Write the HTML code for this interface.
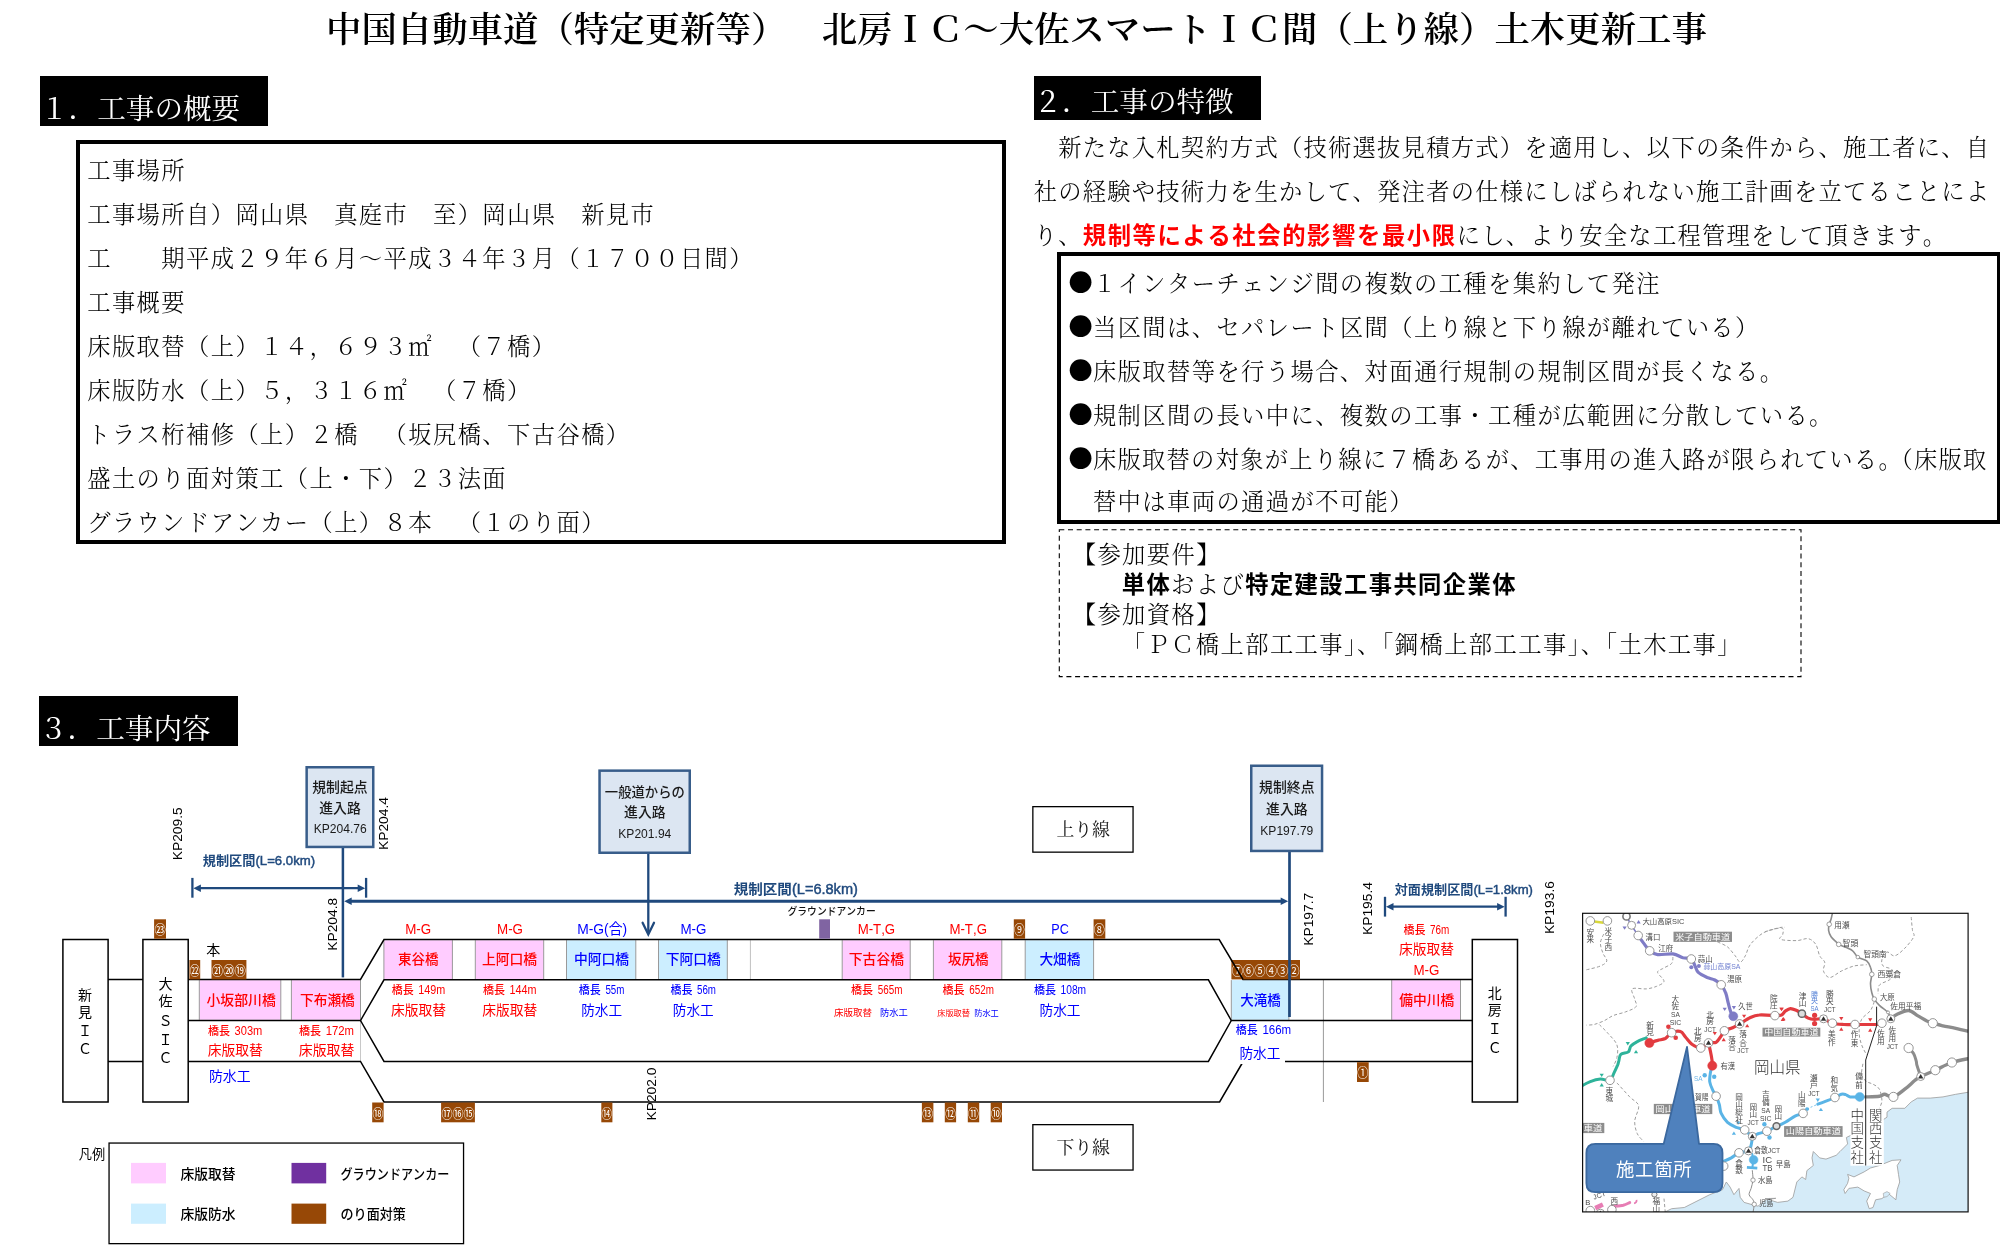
<!DOCTYPE html>
<html lang="ja">
<head>
<meta charset="utf-8">
<title>中国自動車道（特定更新等） 北房ＩＣ～大佐スマートＩＣ間（上り線）土木更新工事</title>
<style>
html,body{margin:0;padding:0;background:#fff;}
body{text-spacing-trim:space-all;font-kerning:none;font-variant-east-asian:normal;width:2000px;height:1259px;position:relative;overflow:hidden;color:#000;
  font-family:"Liberation Sans","Noto Sans CJK JP",sans-serif;}
.mc,.gt{will-change:transform;}
.mc{font-family:"Liberation Serif","Noto Serif CJK JP","Noto Serif CJK SC",serif;}
.gt{font-family:"Liberation Sans","Noto Sans CJK JP",sans-serif;}
.abs{position:absolute;white-space:nowrap;}
#title{left:326px;top:2.7px;font-size:35.42px;line-height:54px;letter-spacing:0;color:#000;font-weight:600;}
.hd{background:#000;color:#fff;font-size:28.6px;}
.hd span{position:absolute;left:0;top:0;white-space:nowrap;}
.ln{position:absolute;white-space:nowrap;font-size:23.3px;letter-spacing:1.4px;margin-left:-0.3px;line-height:44px;height:44px;color:#000;font-weight:300;}
#sec2 .ln{letter-spacing:1.23px;}
#sec2 .red{letter-spacing:1.63px;}
.box{position:absolute;border:4px solid #000;box-sizing:border-box;background:#fff;}
.bl{font-family:"Noto Serif CJK JP","Noto Serif CJK SC",serif;font-size:24.7px;letter-spacing:0;font-weight:400;}
.red{color:#ff0000;font-weight:bold;}
.b{font-weight:bold;}
svg{position:absolute;left:0;top:0;will-change:transform;}
svg text{white-space:pre;}
</style>
</head>
<body>

<div id="title" class="abs mc">中国自動車道（特定更新等）　北房ＩＣ～大佐スマートＩＣ間（上り線）土木更新工事</div>

<!-- section 1 -->
<div class="abs hd mc" style="left:39.5px;top:75.5px;width:227.5px;height:50px;"><span style="left:0px;top:12.5px;line-height:42px;">１．工事の概要</span></div>
<div class="box" style="left:75.5px;top:139.5px;width:930.6px;height:404.2px;"></div>
<div class="mc" id="sec1">
<div class="ln" style="left:87.5px;top:149px;">工事場所</div>
<div class="ln" style="left:87.5px;top:193px;">工事場所自）岡山県　真庭市　至）岡山県　新見市</div>
<div class="ln" style="left:87.5px;top:237px;">工　　期平成２９年６月～平成３４年３月（１７００日間）</div>
<div class="ln" style="left:87.5px;top:281px;">工事概要</div>
<div class="ln" style="left:87.5px;top:325px;">床版取替（上）１４，６９３㎡　（７橋）</div>
<div class="ln" style="left:87.5px;top:369px;">床版防水（上）５，３１６㎡　（７橋）</div>
<div class="ln" style="left:87.5px;top:413px;">トラス桁補修（上）２橋　（坂尻橋、下古谷橋）</div>
<div class="ln" style="left:87.5px;top:457px;">盛土のり面対策工（上・下）２３法面</div>
<div class="ln" style="left:87.5px;top:501px;">グラウンドアンカー（上）８本　（１のり面）</div>
</div>

<!-- section 2 -->
<div class="abs hd mc" style="left:1033.5px;top:75.5px;width:226.5px;height:44px;"><span style="left:-0.5px;top:6px;line-height:42px;">２．工事の特徴</span></div>
<div class="mc" id="sec2">
<div class="ln" style="left:1034px;top:126px;">　新たな入札契約方式（技術選抜見積方式）を適用し、以下の条件から、施工者に、自</div>
<div class="ln" style="left:1034px;top:170px;">社の経験や技術力を生かして、発注者の仕様にしばられない施工計画を立てることによ</div>
<div class="ln" style="left:1034px;top:214px;">り、<span class="gt red">規制等による社会的影響を最小限</span>にし、より安全な工程管理をして頂きます。</div>
</div>
<div class="box" style="left:1056.75px;top:252px;width:943.75px;height:272.4px;"></div>
<div class="mc" id="sec2b">
<div class="ln" style="left:1068.5px;top:259.5px;"><span class="bl">●</span>１インターチェンジ間の複数の工種を集約して発注</div>
<div class="ln" style="left:1068.5px;top:303.5px;"><span class="bl">●</span>当区間は、セパレート区間（上り線と下り線が離れている）</div>
<div class="ln" style="left:1068.5px;top:347.5px;"><span class="bl">●</span>床版取替等を行う場合、対面通行規制の規制区間が長くなる。</div>
<div class="ln" style="left:1068.5px;top:391.5px;"><span class="bl">●</span>規制区間の長い中に、複数の工事・工種が広範囲に分散している。</div>
<div class="ln" style="left:1068.5px;top:435.5px;letter-spacing:1.25px;"><span class="bl">●</span>床版取替の対象が上り線に７橋あるが、工事用の進入路が限られている。<span style="margin-left:-13.5px">（</span>床版取</div>
<div class="ln" style="left:1068.5px;top:479.5px;">　替中は車両の通過が不可能）</div>
</div>
<div class="abs" style="left:1059px;top:529.5px;width:742.5px;height:147.5px;box-sizing:border-box;border:0;"></div>
<div class="mc" id="sec2c">
<div class="ln" style="left:1073px;top:532.5px;">【参加要件】</div>
<div class="ln" style="left:1122px;top:562.5px;"><span class="gt b">単体</span>および<span class="gt b">特定建設工事共同企業体</span></div>
<div class="ln" style="left:1073px;top:592.5px;">【参加資格】</div>
<div class="ln" style="left:1122px;top:622.5px;text-spacing-trim:normal;">「ＰＣ橋上部工工事」、「鋼橋上部工工事」、「土木工事」</div>
</div>

<!-- section 3 -->
<div class="abs hd mc" style="left:39px;top:695.75px;width:199.25px;height:50px;"><span style="left:0px;top:13px;line-height:42px;">３．工事内容</span></div>

<svg width="2000" height="1259" viewBox="0 0 2000 1259" font-family='"Liberation Sans","Noto Sans CJK JP",sans-serif'>
<rect x="1059.3" y="529.7" width="741.7" height="146.9" fill="none" stroke="#000" stroke-width="1.1" stroke-dasharray="5 3.7"/>
<rect x="199.30" y="980.10" width="81.50" height="39.70" fill="#ffccff"/>
<path d="M199.30 980.10 L199.30 1019.80" fill="none" stroke="#9a9a9a" stroke-width="1"/>
<path d="M280.80 980.10 L280.80 1019.80" fill="none" stroke="#9a9a9a" stroke-width="1"/>
<rect x="291.40" y="980.10" width="69.10" height="39.70" fill="#ffccff"/>
<path d="M291.40 980.10 L291.40 1019.80" fill="none" stroke="#9a9a9a" stroke-width="1"/>
<path d="M360.50 980.10 L360.50 1019.80" fill="none" stroke="#9a9a9a" stroke-width="1"/>
<rect x="383.90" y="940.20" width="68.50" height="39.00" fill="#ffccff"/>
<path d="M383.90 940.20 L383.90 979.20" fill="none" stroke="#9a9a9a" stroke-width="1"/>
<path d="M452.40 940.20 L452.40 979.20" fill="none" stroke="#9a9a9a" stroke-width="1"/>
<rect x="475.30" y="940.20" width="68.40" height="39.00" fill="#ffccff"/>
<path d="M475.30 940.20 L475.30 979.20" fill="none" stroke="#9a9a9a" stroke-width="1"/>
<path d="M543.70 940.20 L543.70 979.20" fill="none" stroke="#9a9a9a" stroke-width="1"/>
<rect x="566.50" y="940.20" width="69.30" height="39.00" fill="#cceeff"/>
<path d="M566.50 940.20 L566.50 979.20" fill="none" stroke="#9a9a9a" stroke-width="1"/>
<path d="M635.80 940.20 L635.80 979.20" fill="none" stroke="#9a9a9a" stroke-width="1"/>
<rect x="658.50" y="940.20" width="68.80" height="39.00" fill="#cceeff"/>
<path d="M658.50 940.20 L658.50 979.20" fill="none" stroke="#9a9a9a" stroke-width="1"/>
<path d="M727.30 940.20 L727.30 979.20" fill="none" stroke="#9a9a9a" stroke-width="1"/>
<rect x="842.20" y="940.20" width="68.00" height="39.00" fill="#ffccff"/>
<path d="M842.20 940.20 L842.20 979.20" fill="none" stroke="#9a9a9a" stroke-width="1"/>
<path d="M910.20 940.20 L910.20 979.20" fill="none" stroke="#9a9a9a" stroke-width="1"/>
<rect x="933.40" y="940.20" width="68.40" height="39.00" fill="#ffccff"/>
<path d="M933.40 940.20 L933.40 979.20" fill="none" stroke="#9a9a9a" stroke-width="1"/>
<path d="M1001.80 940.20 L1001.80 979.20" fill="none" stroke="#9a9a9a" stroke-width="1"/>
<rect x="1025.20" y="940.20" width="68.40" height="39.00" fill="#cceeff"/>
<path d="M1025.20 940.20 L1025.20 979.20" fill="none" stroke="#9a9a9a" stroke-width="1"/>
<path d="M1093.60 940.20 L1093.60 979.20" fill="none" stroke="#9a9a9a" stroke-width="1"/>
<rect x="1231.30" y="980.10" width="57.60" height="39.70" fill="#cceeff"/>
<path d="M1231.30 980.10 L1231.30 1019.80" fill="none" stroke="#9a9a9a" stroke-width="1"/>
<path d="M1288.90 980.10 L1288.90 1019.80" fill="none" stroke="#9a9a9a" stroke-width="1"/>
<rect x="1391.70" y="980.10" width="68.80" height="39.70" fill="#ffccff"/>
<path d="M1391.70 980.10 L1391.70 1019.80" fill="none" stroke="#9a9a9a" stroke-width="1"/>
<path d="M1460.50 980.10 L1460.50 1019.80" fill="none" stroke="#9a9a9a" stroke-width="1"/>
<path d="M360.50 1020.50 L360.50 1061.40" fill="none" stroke="#c8c8c8" stroke-width="1"/>
<path d="M750.40 940.20 L750.40 979.20" fill="none" stroke="#c0c0c0" stroke-width="1"/>
<path d="M1323.40 979.40 L1323.40 1102.00" fill="none" stroke="#9a9a9a" stroke-width="1"/>
<rect x="62.90" y="939.50" width="45.20" height="162.50" fill="#fff" stroke="#000" stroke-width="1.5"/>
<rect x="142.90" y="939.50" width="45.30" height="162.50" fill="#fff" stroke="#000" stroke-width="1.5"/>
<rect x="1472.30" y="939.50" width="45.20" height="162.50" fill="#fff" stroke="#000" stroke-width="1.5"/>
<path d="M108.10 979.40 L142.90 979.40" fill="none" stroke="#000" stroke-width="1.5"/>
<path d="M108.10 1061.40 L142.90 1061.40" fill="none" stroke="#000" stroke-width="1.5"/>
<path d="M188.20 979.40 L360.50 979.40 L384.00 939.50 L1219.20 939.50 L1243.00 979.40 L1472.30 979.40" fill="none" stroke="#000" stroke-width="1.5"/>
<path d="M188.20 1020.50 L360.50 1020.50 L384.00 979.80 L1208.40 979.80 L1231.30 1020.50 L1472.30 1020.50" fill="none" stroke="#000" stroke-width="1.5"/>
<path d="M360.50 1020.50 L384.00 1061.40 L1208.40 1061.40 L1231.30 1020.50" fill="none" stroke="#000" stroke-width="1.5"/>
<path d="M188.20 1061.40 L360.50 1061.40 L384.00 1102.00 L1219.60 1102.00 L1242.30 1063.00" fill="none" stroke="#000" stroke-width="1.5"/>
<path d="M1285.00 1061.40 L1472.30 1061.40" fill="none" stroke="#000" stroke-width="1.5"/>
<rect x="154.10" y="919.30" width="11.90" height="19.40" fill="#974806"/>
<text x="160.1" y="934.1" font-size="13.0" fill="#fff" text-anchor="middle" font-weight="400" textLength="11.3" lengthAdjust="spacingAndGlyphs">㉓</text>
<rect x="189.40" y="960.00" width="10.80" height="19.40" fill="#974806"/>
<text x="194.8" y="974.8" font-size="13.0" fill="#fff" text-anchor="middle" font-weight="400" textLength="10.2" lengthAdjust="spacingAndGlyphs">㉒</text>
<rect x="211.50" y="960.00" width="34.90" height="19.40" fill="#974806"/>
<text x="228.9" y="974.8" font-size="13.0" fill="#fff" text-anchor="middle" font-weight="400" textLength="34.3" lengthAdjust="spacingAndGlyphs">㉑⑳⑲</text>
<rect x="372.20" y="1102.50" width="11.40" height="19.80" fill="#974806"/>
<text x="377.9" y="1117.5" font-size="13.0" fill="#fff" text-anchor="middle" font-weight="400" textLength="10.8" lengthAdjust="spacingAndGlyphs">⑱</text>
<rect x="441.10" y="1102.50" width="33.80" height="19.80" fill="#974806"/>
<text x="458.0" y="1117.5" font-size="13.0" fill="#fff" text-anchor="middle" font-weight="400" textLength="33.2" lengthAdjust="spacingAndGlyphs">⑰⑯⑮</text>
<rect x="601.30" y="1102.50" width="11.10" height="19.80" fill="#974806"/>
<text x="606.8" y="1117.5" font-size="13.0" fill="#fff" text-anchor="middle" font-weight="400" textLength="10.5" lengthAdjust="spacingAndGlyphs">⑭</text>
<rect x="921.90" y="1102.50" width="11.50" height="19.80" fill="#974806"/>
<text x="927.6" y="1117.5" font-size="13.0" fill="#fff" text-anchor="middle" font-weight="400" textLength="10.9" lengthAdjust="spacingAndGlyphs">⑬</text>
<rect x="944.80" y="1102.50" width="11.30" height="19.80" fill="#974806"/>
<text x="950.5" y="1117.5" font-size="13.0" fill="#fff" text-anchor="middle" font-weight="400" textLength="10.7" lengthAdjust="spacingAndGlyphs">⑫</text>
<rect x="967.80" y="1102.50" width="11.40" height="19.80" fill="#974806"/>
<text x="973.5" y="1117.5" font-size="13.0" fill="#fff" text-anchor="middle" font-weight="400" textLength="10.8" lengthAdjust="spacingAndGlyphs">⑪</text>
<rect x="990.70" y="1102.50" width="11.30" height="19.80" fill="#974806"/>
<text x="996.4" y="1117.5" font-size="13.0" fill="#fff" text-anchor="middle" font-weight="400" textLength="10.7" lengthAdjust="spacingAndGlyphs">⑩</text>
<rect x="1013.80" y="919.30" width="11.30" height="19.40" fill="#974806"/>
<text x="1019.4" y="934.1" font-size="13.0" fill="#fff" text-anchor="middle" font-weight="400" textLength="10.7" lengthAdjust="spacingAndGlyphs">⑨</text>
<rect x="1093.60" y="919.30" width="11.70" height="19.40" fill="#974806"/>
<text x="1099.4" y="934.1" font-size="13.0" fill="#fff" text-anchor="middle" font-weight="400" textLength="11.1" lengthAdjust="spacingAndGlyphs">⑧</text>
<rect x="1231.40" y="960.00" width="68.60" height="19.40" fill="#974806"/>
<text x="1265.7" y="974.8" font-size="13.0" fill="#fff" text-anchor="middle" font-weight="400" textLength="68.0" lengthAdjust="spacingAndGlyphs">⑦⑥⑤④③②</text>
<rect x="1357.00" y="1062.20" width="11.70" height="19.80" fill="#974806"/>
<text x="1362.8" y="1077.2" font-size="13.0" fill="#fff" text-anchor="middle" font-weight="400" textLength="11.1" lengthAdjust="spacingAndGlyphs">①</text>
<path d="M1231.30 959.90 L1243.00 979.40" fill="none" stroke="#000" stroke-width="1.5"/>
<rect x="819.20" y="919.30" width="10.80" height="19.40" fill="#8064a2"/>
<path d="M342.90 847.00 L342.90 977.40" fill="none" stroke="#1f497d" stroke-width="2.5"/>
<path d="M1289.50 851.00 L1289.50 1017.00" fill="none" stroke="#1f497d" stroke-width="2.7"/>
<path d="M648.30 853.00 L648.30 933.50" fill="none" stroke="#1f497d" stroke-width="2.3"/>
<path d="M642.60 922.80 L648.30 934.40 L654.00 922.80" fill="none" stroke="#1f497d" stroke-width="2.3" stroke-linejoin="miter" stroke-linecap="round"/>
<rect x="306.65" y="767.25" width="66.60" height="79.70" fill="#dce6f2" stroke="#385d8a" stroke-width="2.5"/>
<rect x="599.55" y="770.65" width="90.20" height="82.10" fill="#dce6f2" stroke="#385d8a" stroke-width="2.5"/>
<rect x="1251.25" y="765.75" width="70.80" height="85.20" fill="#dce6f2" stroke="#385d8a" stroke-width="2.5"/>
<text x="340.0" y="792.0" font-size="14.0" fill="#1a1a1a" text-anchor="middle" font-weight="500" textLength="55.5" lengthAdjust="spacingAndGlyphs">規制起点</text>
<text x="340.0" y="812.7" font-size="14.0" fill="#1a1a1a" text-anchor="middle" font-weight="500" textLength="41.5" lengthAdjust="spacingAndGlyphs">進入路</text>
<text x="340.2" y="833.0" font-size="12.3" fill="#1a1a1a" text-anchor="middle" font-weight="400" textLength="53.0" lengthAdjust="spacingAndGlyphs">KP204.76</text>
<text x="644.8" y="796.9" font-size="13.6" fill="#1a1a1a" text-anchor="middle" font-weight="500" textLength="80.0" lengthAdjust="spacingAndGlyphs">一般道からの</text>
<text x="644.8" y="817.2" font-size="14.0" fill="#1a1a1a" text-anchor="middle" font-weight="500" textLength="41.5" lengthAdjust="spacingAndGlyphs">進入路</text>
<text x="644.8" y="838.4" font-size="12.3" fill="#1a1a1a" text-anchor="middle" font-weight="400" textLength="53.0" lengthAdjust="spacingAndGlyphs">KP201.94</text>
<text x="1286.8" y="792.4" font-size="14.0" fill="#1a1a1a" text-anchor="middle" font-weight="500" textLength="55.5" lengthAdjust="spacingAndGlyphs">規制終点</text>
<text x="1286.8" y="813.6" font-size="14.0" fill="#1a1a1a" text-anchor="middle" font-weight="500" textLength="41.5" lengthAdjust="spacingAndGlyphs">進入路</text>
<text x="1286.8" y="834.8" font-size="12.3" fill="#1a1a1a" text-anchor="middle" font-weight="400" textLength="53.0" lengthAdjust="spacingAndGlyphs">KP197.79</text>
<path d="M199.90 888.20 L358.70 888.20" fill="none" stroke="#1f497d" stroke-width="2.3"/>
<path d="M193.40 888.20 L200.90 884.40 L200.90 892.00 Z" fill="#1f497d"/>
<path d="M365.20 888.20 L357.70 884.40 L357.70 892.00 Z" fill="#1f497d"/>
<path d="M192.40 877.90 L192.40 897.70" fill="none" stroke="#1f497d" stroke-width="2.3"/>
<path d="M366.10 877.90 L366.10 897.70" fill="none" stroke="#1f497d" stroke-width="2.3"/>
<path d="M350.70 901.30 L1281.70 901.30" fill="none" stroke="#1f497d" stroke-width="2.9"/>
<path d="M344.20 901.30 L351.70 897.50 L351.70 905.10 Z" fill="#1f497d"/>
<path d="M1288.20 901.30 L1280.70 897.50 L1280.70 905.10 Z" fill="#1f497d"/>
<path d="M1392.50 906.70 L1498.10 906.70" fill="none" stroke="#1f497d" stroke-width="2.3"/>
<path d="M1386.00 906.70 L1393.50 902.90 L1393.50 910.50 Z" fill="#1f497d"/>
<path d="M1504.60 906.70 L1497.10 902.90 L1497.10 910.50 Z" fill="#1f497d"/>
<path d="M1385.00 896.80 L1385.00 916.60" fill="none" stroke="#1f497d" stroke-width="2.3"/>
<path d="M1505.60 896.80 L1505.60 916.60" fill="none" stroke="#1f497d" stroke-width="2.3"/>
<text x="202.8" y="864.6" font-size="13.0" fill="#1f497d" font-weight="700" textLength="112.3" lengthAdjust="spacingAndGlyphs">規制区間<tspan font-weight="400" stroke="#1f497d" stroke-width="0.45">(L=6.0km)</tspan></text>
<text x="733.7" y="893.8" font-size="14.2" fill="#1f497d" font-weight="700" textLength="124.2" lengthAdjust="spacingAndGlyphs">規制区間<tspan font-weight="400" stroke="#1f497d" stroke-width="0.45">(L=6.8km)</tspan></text>
<text x="1394.7" y="893.9" font-size="13.0" fill="#1f497d" font-weight="700" textLength="138.3" lengthAdjust="spacingAndGlyphs">対面規制区間<tspan font-weight="400" stroke="#1f497d" stroke-width="0.45">(L=1.8km)</tspan></text>
<text transform="translate(177.5 833.8) rotate(-90)" x="0" y="4.6" font-size="13.2" fill="#000" text-anchor="middle" textLength="53" lengthAdjust="spacingAndGlyphs">KP209.5</text>
<text transform="translate(383.5 823.5) rotate(-90)" x="0" y="4.6" font-size="13.2" fill="#000" text-anchor="middle" textLength="53" lengthAdjust="spacingAndGlyphs">KP204.4</text>
<text transform="translate(332.8 924.3) rotate(-90)" x="0" y="4.6" font-size="13.2" fill="#000" text-anchor="middle" textLength="53" lengthAdjust="spacingAndGlyphs">KP204.8</text>
<text transform="translate(651.3 1094.0) rotate(-90)" x="0" y="4.6" font-size="13.2" fill="#000" text-anchor="middle" textLength="53" lengthAdjust="spacingAndGlyphs">KP202.0</text>
<text transform="translate(1308.4 919.3) rotate(-90)" x="0" y="4.6" font-size="13.2" fill="#000" text-anchor="middle" textLength="53" lengthAdjust="spacingAndGlyphs">KP197.7</text>
<text transform="translate(1367.7 908.5) rotate(-90)" x="0" y="4.6" font-size="13.2" fill="#000" text-anchor="middle" textLength="53" lengthAdjust="spacingAndGlyphs">KP195.4</text>
<text transform="translate(1549.2 907.6) rotate(-90)" x="0" y="4.6" font-size="13.2" fill="#000" text-anchor="middle" textLength="53" lengthAdjust="spacingAndGlyphs">KP193.6</text>
<text x="418.2" y="934.4" font-size="15.0" fill="#ff0000" text-anchor="middle" font-weight="400" textLength="26.0" lengthAdjust="spacingAndGlyphs">M-G</text>
<text x="510.0" y="934.4" font-size="15.0" fill="#ff0000" text-anchor="middle" font-weight="400" textLength="26.0" lengthAdjust="spacingAndGlyphs">M-G</text>
<text x="602.2" y="934.4" font-size="15.0" fill="#0000ff" text-anchor="middle" font-weight="400" textLength="50.0" lengthAdjust="spacingAndGlyphs">M-G(合)</text>
<text x="693.4" y="934.4" font-size="15.0" fill="#0000ff" text-anchor="middle" font-weight="400" textLength="26.0" lengthAdjust="spacingAndGlyphs">M-G</text>
<text x="876.4" y="934.4" font-size="15.0" fill="#ff0000" text-anchor="middle" font-weight="400" textLength="37.5" lengthAdjust="spacingAndGlyphs">M-T,G</text>
<text x="968.2" y="934.4" font-size="15.0" fill="#ff0000" text-anchor="middle" font-weight="400" textLength="37.5" lengthAdjust="spacingAndGlyphs">M-T,G</text>
<text x="1060.0" y="934.4" font-size="15.0" fill="#0000ff" text-anchor="middle" font-weight="400" textLength="17.5" lengthAdjust="spacingAndGlyphs">PC</text>
<text x="418.2" y="964.4" font-size="14.0" fill="#ff0000" text-anchor="middle" font-weight="500" textLength="40.5" lengthAdjust="spacingAndGlyphs">東谷橋</text>
<text x="509.5" y="964.4" font-size="14.0" fill="#ff0000" text-anchor="middle" font-weight="500" textLength="55.2" lengthAdjust="spacingAndGlyphs">上阿口橋</text>
<text x="601.5" y="964.4" font-size="14.0" fill="#0000ff" text-anchor="middle" font-weight="500" textLength="55.2" lengthAdjust="spacingAndGlyphs">中阿口橋</text>
<text x="693.3" y="964.4" font-size="14.0" fill="#0000ff" text-anchor="middle" font-weight="500" textLength="55.2" lengthAdjust="spacingAndGlyphs">下阿口橋</text>
<text x="876.4" y="964.4" font-size="14.0" fill="#ff0000" text-anchor="middle" font-weight="500" textLength="55.2" lengthAdjust="spacingAndGlyphs">下古谷橋</text>
<text x="968.2" y="964.4" font-size="14.0" fill="#ff0000" text-anchor="middle" font-weight="500" textLength="40.5" lengthAdjust="spacingAndGlyphs">坂尻橋</text>
<text x="1059.9" y="964.4" font-size="14.0" fill="#0000ff" text-anchor="middle" font-weight="500" textLength="41.0" lengthAdjust="spacingAndGlyphs">大畑橋</text>
<text x="241.1" y="1005.0" font-size="14.0" fill="#ff0000" text-anchor="middle" font-weight="500" textLength="69.3" lengthAdjust="spacingAndGlyphs">小坂部川橋</text>
<text x="327.4" y="1005.0" font-size="14.0" fill="#ff0000" text-anchor="middle" font-weight="500" textLength="54.8" lengthAdjust="spacingAndGlyphs">下布瀬橋</text>
<text x="1260.5" y="1005.0" font-size="14.0" fill="#0000ff" text-anchor="middle" font-weight="500" textLength="40.5" lengthAdjust="spacingAndGlyphs">大滝橋</text>
<text x="1426.7" y="1005.0" font-size="14.0" fill="#ff0000" text-anchor="middle" font-weight="500" textLength="55.0" lengthAdjust="spacingAndGlyphs">備中川橋</text>
<text x="391.7" y="994.1" font-size="11.3" fill="#ff0000" font-weight="500" textLength="22.0" lengthAdjust="spacingAndGlyphs">橋長</text>
<text x="418.3" y="994.4" font-size="13.2" fill="#ff0000" textLength="27.0" lengthAdjust="spacingAndGlyphs">149m</text>
<text x="418.5" y="1014.8" font-size="14.0" fill="#ff0000" text-anchor="middle" font-weight="400" textLength="55.0" lengthAdjust="spacingAndGlyphs">床版取替</text>
<text x="483.0" y="994.1" font-size="11.3" fill="#ff0000" font-weight="500" textLength="22.0" lengthAdjust="spacingAndGlyphs">橋長</text>
<text x="509.6" y="994.4" font-size="13.2" fill="#ff0000" textLength="27.0" lengthAdjust="spacingAndGlyphs">144m</text>
<text x="509.8" y="1014.8" font-size="14.0" fill="#ff0000" text-anchor="middle" font-weight="400" textLength="55.0" lengthAdjust="spacingAndGlyphs">床版取替</text>
<text x="578.8" y="994.1" font-size="11.3" fill="#0000ff" font-weight="500" textLength="22.0" lengthAdjust="spacingAndGlyphs">橋長</text>
<text x="605.4" y="994.4" font-size="13.2" fill="#0000ff" textLength="19.0" lengthAdjust="spacingAndGlyphs">55m</text>
<text x="601.6" y="1014.8" font-size="14.0" fill="#0000ff" text-anchor="middle" font-weight="400" textLength="40.8" lengthAdjust="spacingAndGlyphs">防水工</text>
<text x="670.4" y="994.1" font-size="11.3" fill="#0000ff" font-weight="500" textLength="22.0" lengthAdjust="spacingAndGlyphs">橋長</text>
<text x="697.0" y="994.4" font-size="13.2" fill="#0000ff" textLength="19.0" lengthAdjust="spacingAndGlyphs">56m</text>
<text x="693.2" y="1014.8" font-size="14.0" fill="#0000ff" text-anchor="middle" font-weight="400" textLength="40.8" lengthAdjust="spacingAndGlyphs">防水工</text>
<text x="851.1" y="994.1" font-size="11.3" fill="#ff0000" font-weight="500" textLength="22.0" lengthAdjust="spacingAndGlyphs">橋長</text>
<text x="877.8" y="994.4" font-size="13.2" fill="#ff0000" textLength="24.7" lengthAdjust="spacingAndGlyphs">565m</text>
<text x="834.1" y="1015.9" font-size="9.5" fill="#ff0000" text-anchor="start" font-weight="400" textLength="37.9" lengthAdjust="spacingAndGlyphs">床版取替</text>
<text x="880.0" y="1015.9" font-size="9.5" fill="#0000ff" text-anchor="start" font-weight="400" textLength="27.9" lengthAdjust="spacingAndGlyphs">防水工</text>
<text x="942.6" y="994.1" font-size="11.3" fill="#ff0000" font-weight="500" textLength="22.0" lengthAdjust="spacingAndGlyphs">橋長</text>
<text x="969.2" y="994.4" font-size="13.2" fill="#ff0000" textLength="24.7" lengthAdjust="spacingAndGlyphs">652m</text>
<text x="937.2" y="1015.9" font-size="8.5" fill="#ff0000" text-anchor="start" font-weight="400" textLength="32.8" lengthAdjust="spacingAndGlyphs">床版取替</text>
<text x="974.2" y="1015.9" font-size="8.5" fill="#0000ff" text-anchor="start" font-weight="400" textLength="24.6" lengthAdjust="spacingAndGlyphs">防水工</text>
<text x="1033.9" y="994.1" font-size="11.3" fill="#0000ff" font-weight="500" textLength="22.0" lengthAdjust="spacingAndGlyphs">橋長</text>
<text x="1060.5" y="994.4" font-size="13.2" fill="#0000ff" textLength="25.6" lengthAdjust="spacingAndGlyphs">108m</text>
<text x="1060.0" y="1014.8" font-size="14.0" fill="#0000ff" text-anchor="middle" font-weight="400" textLength="41.0" lengthAdjust="spacingAndGlyphs">防水工</text>
<text x="208.0" y="1035.1" font-size="11.3" fill="#ff0000" font-weight="500" textLength="22.0" lengthAdjust="spacingAndGlyphs">橋長</text>
<text x="234.6" y="1035.4" font-size="13.2" fill="#ff0000" textLength="27.7" lengthAdjust="spacingAndGlyphs">303m</text>
<text x="235.2" y="1055.3" font-size="14.0" fill="#ff0000" text-anchor="middle" font-weight="400" textLength="55.0" lengthAdjust="spacingAndGlyphs">床版取替</text>
<text x="229.8" y="1081.4" font-size="14.0" fill="#0000ff" text-anchor="middle" font-weight="400" textLength="41.6" lengthAdjust="spacingAndGlyphs">防水工</text>
<text x="299.1" y="1035.1" font-size="11.3" fill="#ff0000" font-weight="500" textLength="22.0" lengthAdjust="spacingAndGlyphs">橋長</text>
<text x="325.7" y="1035.4" font-size="13.2" fill="#ff0000" textLength="28.4" lengthAdjust="spacingAndGlyphs">172m</text>
<text x="326.6" y="1055.3" font-size="14.0" fill="#ff0000" text-anchor="middle" font-weight="400" textLength="55.5" lengthAdjust="spacingAndGlyphs">床版取替</text>
<rect x="1231.50" y="1040.00" width="53.00" height="24.00" fill="#fff"/>
<text x="1235.8" y="1034.1" font-size="11.3" fill="#0000ff" font-weight="500" textLength="22.0" lengthAdjust="spacingAndGlyphs">橋長</text>
<text x="1262.4" y="1034.4" font-size="13.2" fill="#0000ff" textLength="28.8" lengthAdjust="spacingAndGlyphs">166m</text>
<text x="1259.9" y="1057.6" font-size="14.0" fill="#0000ff" text-anchor="middle" font-weight="400" textLength="41.0" lengthAdjust="spacingAndGlyphs">防水工</text>
<text x="1403.5" y="933.6" font-size="11.3" fill="#ff0000" font-weight="500" textLength="22.0" lengthAdjust="spacingAndGlyphs">橋長</text>
<text x="1430.0" y="933.9" font-size="13.2" fill="#ff0000" textLength="19.3" lengthAdjust="spacingAndGlyphs">76m</text>
<text x="1426.4" y="954.3" font-size="14.0" fill="#ff0000" text-anchor="middle" font-weight="400" textLength="55.0" lengthAdjust="spacingAndGlyphs">床版取替</text>
<text x="1426.4" y="975.1" font-size="15.0" fill="#ff0000" text-anchor="middle" font-weight="400" textLength="26.0" lengthAdjust="spacingAndGlyphs">M-G</text>
<text x="787.5" y="915.3" font-size="10.5" fill="#111" text-anchor="start" font-weight="500" textLength="88.2" lengthAdjust="spacingAndGlyphs">グラウンドアンカー</text>
<text x="213.3" y="954.7" font-size="14.0" fill="#000" text-anchor="middle" font-weight="400">本</text>
<text x="85.0" y="999.5" font-size="14.0" fill="#000" text-anchor="middle" font-weight="400">新</text>
<text x="85.0" y="1017.0" font-size="14.0" fill="#000" text-anchor="middle" font-weight="400">見</text>
<text x="85.0" y="1036.0" font-size="14.0" fill="#000" text-anchor="middle" font-weight="400">Ｉ</text>
<text x="85.0" y="1054.0" font-size="14.0" fill="#000" text-anchor="middle" font-weight="400">Ｃ</text>
<text x="165.5" y="988.7" font-size="14.0" fill="#000" text-anchor="middle" font-weight="400">大</text>
<text x="165.5" y="1006.3" font-size="14.0" fill="#000" text-anchor="middle" font-weight="400">佐</text>
<text x="165.5" y="1025.6" font-size="14.0" fill="#000" text-anchor="middle" font-weight="400">Ｓ</text>
<text x="165.5" y="1045.4" font-size="14.0" fill="#000" text-anchor="middle" font-weight="400">Ｉ</text>
<text x="165.5" y="1063.0" font-size="14.0" fill="#000" text-anchor="middle" font-weight="400">Ｃ</text>
<text x="1494.7" y="998.1" font-size="14.0" fill="#000" text-anchor="middle" font-weight="400">北</text>
<text x="1494.7" y="1015.2" font-size="14.0" fill="#000" text-anchor="middle" font-weight="400">房</text>
<text x="1494.7" y="1034.1" font-size="14.0" fill="#000" text-anchor="middle" font-weight="400">Ｉ</text>
<text x="1494.7" y="1053.0" font-size="14.0" fill="#000" text-anchor="middle" font-weight="400">Ｃ</text>
<rect x="1032.85" y="806.65" width="100.20" height="45.50" fill="#fff" stroke="#000" stroke-width="1.3"/>
<text x="1083.2" y="836.0" font-size="18.0" fill="#111" text-anchor="middle" font-weight="400" textLength="53.5" lengthAdjust="spacingAndGlyphs" font-family='"Liberation Serif","Noto Serif CJK JP","Noto Serif CJK SC",serif'>上り線</text>
<rect x="1032.85" y="1124.65" width="100.20" height="45.40" fill="#fff" stroke="#000" stroke-width="1.3"/>
<text x="1083.2" y="1153.5" font-size="18.0" fill="#111" text-anchor="middle" font-weight="400" textLength="53.5" lengthAdjust="spacingAndGlyphs" font-family='"Liberation Serif","Noto Serif CJK JP","Noto Serif CJK SC",serif'>下り線</text>
<rect x="109.05" y="1143.05" width="354.50" height="100.60" fill="#fff" stroke="#000" stroke-width="1.3"/>
<text x="78.7" y="1158.8" font-size="13.2" fill="#000" text-anchor="start" font-weight="400" textLength="26.4" lengthAdjust="spacingAndGlyphs">凡例</text>
<rect x="131.00" y="1162.90" width="35.00" height="20.50" fill="#ffccff"/>
<rect x="131.00" y="1203.60" width="35.00" height="20.20" fill="#cceeff"/>
<rect x="291.50" y="1162.90" width="34.70" height="20.50" fill="#7030a0"/>
<rect x="291.50" y="1203.60" width="34.70" height="20.20" fill="#974806"/>
<text x="180.4" y="1178.5" font-size="13.8" fill="#000" text-anchor="start" font-weight="500" textLength="55.0" lengthAdjust="spacingAndGlyphs">床版取替</text>
<text x="180.4" y="1219.2" font-size="13.8" fill="#000" text-anchor="start" font-weight="500" textLength="55.0" lengthAdjust="spacingAndGlyphs">床版防水</text>
<text x="340.5" y="1178.5" font-size="13.8" fill="#000" text-anchor="start" font-weight="500" textLength="108.9" lengthAdjust="spacingAndGlyphs">グラウンドアンカー</text>
<text x="340.5" y="1219.2" font-size="13.8" fill="#000" text-anchor="start" font-weight="500" textLength="65.4" lengthAdjust="spacingAndGlyphs">のり面対策</text>
</svg>
<svg width="2000" height="1259" viewBox="0 0 2000 1259" font-family='"Liberation Sans","Noto Sans CJK JP",sans-serif'>
<defs><clipPath id="mapclip"><rect x="1582.6" y="913.3" width="385.5" height="298.6"/></clipPath>
<filter id="soft" x="-5%" y="-5%" width="110%" height="110%"><feGaussianBlur stdDeviation="0.45"/></filter></defs>
<rect x="1582.6" y="913.3" width="385.5" height="298.6" fill="#fff"/>
<g clip-path="url(#mapclip)"><g filter="url(#soft)">
<path d="M1664.0 1212.5 L1671.6 1208.7 L1684.3 1207.5 L1697.0 1201.1 L1709.7 1194.7 L1722.5 1189.7 L1726.3 1182.0 L1730.1 1187.1 L1733.9 1194.7 L1739.0 1188.4 L1740.2 1197.3 L1744.1 1202.4 L1753.0 1204.9 L1758.0 1206.2 L1765.7 1199.8 L1775.8 1198.3 L1765.0 1198.6 L1777.7 1202.4 L1787.9 1201.1 L1793.0 1197.3 L1796.8 1182.0 L1801.9 1176.9 L1805.7 1179.5 L1806.9 1170.6 L1813.3 1165.5 L1812.0 1157.9 L1813.3 1151.5 L1819.7 1157.9 L1826.0 1159.1 L1836.2 1155.3 L1840.0 1151.5 L1847.6 1143.9 L1846.4 1137.5 L1851.4 1135.0 L1861.6 1129.3 L1873.0 1124.2 L1883.2 1119.7 L1887.0 1117.2 L1887.0 1112.1 L1892.1 1108.3 L1904.8 1108.3 L1911.2 1101.9 L1917.5 1098.1 L1930.2 1098.1 L1943.0 1096.9 L1955.7 1094.3 L1969.7 1092.0 L1970.0 1215.0 L1660.0 1215.0 Z" fill="#d5ebf8"/>
<path d="M1664.0 1212.5 L1671.6 1208.7 L1684.3 1207.5 L1697.0 1201.1 L1709.7 1194.7 L1722.5 1189.7 L1726.3 1182.0 L1730.1 1187.1 L1733.9 1194.7 L1739.0 1188.4 L1740.2 1197.3 L1744.1 1202.4 L1753.0 1204.9 L1758.0 1206.2 L1765.7 1199.8 L1775.8 1198.3 L1765.0 1198.6 L1777.7 1202.4 L1787.9 1201.1 L1793.0 1197.3 L1796.8 1182.0 L1801.9 1176.9 L1805.7 1179.5 L1806.9 1170.6 L1813.3 1165.5 L1812.0 1157.9 L1813.3 1151.5 L1819.7 1157.9 L1826.0 1159.1 L1836.2 1155.3 L1840.0 1151.5 L1847.6 1143.9 L1846.4 1137.5 L1851.4 1135.0 L1861.6 1129.3 L1873.0 1124.2 L1883.2 1119.7 L1887.0 1117.2 L1887.0 1112.1 L1892.1 1108.3 L1904.8 1108.3 L1911.2 1101.9 L1917.5 1098.1 L1930.2 1098.1 L1943.0 1096.9 L1955.7 1094.3 L1969.7 1092.0" fill="none" stroke="#9a9a9a" stroke-width="0.8" stroke-linejoin="round"/>
<path d="M1847.6 1174.4 L1854.0 1176.9 L1864.1 1171.9 L1870.5 1168.0 L1879.4 1165.5 L1892.1 1160.4 L1901.0 1159.8 L1897.2 1165.5 L1898.5 1174.4 L1899.7 1182.0 L1897.2 1189.7 L1895.9 1199.8 L1888.3 1193.5 L1881.9 1198.6 L1875.6 1199.8 L1873.0 1207.5 L1869.2 1208.7 L1866.7 1201.1 L1870.5 1193.5 L1864.1 1190.9 L1857.8 1187.1 L1848.9 1188.4 L1845.1 1193.5 L1843.8 1189.7 L1847.6 1183.3 L1848.9 1178.2 Z" fill="#fff" stroke="#9a9a9a" stroke-width="0.8" stroke-linejoin="round"/>
<path d="M1883.2 1193.5 L1887.0 1191.6 L1890.2 1193.5 L1887.0 1196.6 L1883.9 1197.3 Z" fill="#d5ebf8" stroke="#9a9a9a" stroke-width="0.6" stroke-linejoin="round"/>
<path d="M1586.4 969.8 C1588.8 969.2 1597.0 967.5 1600.4 966.0 C1603.8 964.5 1606.4 963.0 1606.8 960.9 C1607.2 958.8 1604.0 956.3 1603.0 953.3 C1601.9 950.3 1600.3 946.3 1600.4 943.1 C1600.5 940.0 1603.1 935.7 1603.6 934.2" fill="none" stroke="#9c9c9c" stroke-width="1.0" stroke-dasharray="3.2 2.2"/>
<path d="M1672.9 957.1 C1672.7 958.2 1673.3 961.6 1671.6 963.5 C1669.9 965.4 1665.0 967.1 1662.7 968.6 C1660.4 970.0 1657.4 970.3 1657.6 972.4 C1657.8 974.5 1664.2 978.9 1664.0 981.3 C1663.8 983.6 1659.3 985.1 1656.4 986.4 C1653.4 987.6 1650.2 988.5 1646.2 988.9 C1642.2 989.3 1634.1 987.2 1632.2 988.9 C1630.3 990.6 1634.1 996.1 1634.7 999.1 C1635.4 1002.0 1637.5 1004.6 1636.0 1006.7 C1634.5 1008.8 1629.7 1010.3 1625.8 1011.8 C1622.0 1013.3 1616.7 1014.1 1613.1 1015.6 C1609.5 1017.1 1607.4 1019.2 1604.2 1020.7 C1601.1 1022.2 1597.0 1023.7 1594.1 1024.5 C1591.1 1025.2 1587.7 1025.0 1586.4 1025.1" fill="none" stroke="#9c9c9c" stroke-width="1.0" stroke-dasharray="3.2 2.2"/>
<path d="M1717.4 941.9 C1719.1 942.7 1724.6 944.6 1727.5 946.9 C1730.5 949.3 1733.0 953.3 1735.2 955.8 C1737.3 958.4 1738.6 962.2 1740.2 962.2 C1741.9 962.2 1743.6 958.8 1745.3 955.8 C1747.0 952.9 1747.5 948.2 1750.4 944.4 C1753.4 940.6 1758.5 935.7 1763.1 933.0 C1767.8 930.2 1774.7 928.8 1778.4 927.9 C1782.0 926.9 1783.9 927.4 1785.0 927.2" fill="none" stroke="#9c9c9c" stroke-width="1.0" stroke-dasharray="3.2 2.2"/>
<path d="M1599.2 1024.5 C1600.6 1026.0 1605.1 1030.0 1608.0 1033.4 C1611.0 1036.8 1615.5 1040.8 1616.9 1044.8 C1618.4 1048.8 1617.6 1053.9 1616.9 1057.5 C1616.3 1061.1 1613.8 1065.0 1613.1 1066.4" fill="none" stroke="#9c9c9c" stroke-width="1.0" stroke-dasharray="3.2 2.2"/>
<path d="M1765.0 931.7 C1767.8 931.1 1778.6 927.5 1781.5 927.9 C1784.5 928.3 1783.0 932.3 1782.8 934.2 C1782.6 936.1 1777.9 938.3 1780.3 939.3 C1782.6 940.4 1792.1 940.7 1796.8 940.6 C1801.4 940.5 1805.0 938.0 1808.2 938.7 C1811.4 939.3 1813.9 941.5 1815.8 944.4 C1817.8 947.3 1818.2 952.9 1819.7 955.8 C1821.1 958.8 1824.1 959.7 1824.7 962.2 C1825.4 964.7 1822.6 968.6 1823.5 971.1 C1824.3 973.6 1826.9 977.5 1829.8 977.5 C1832.8 977.5 1837.2 973.0 1841.3 971.1 C1845.3 969.2 1849.7 967.1 1854.0 966.0 C1858.2 965.0 1864.6 965.0 1866.7 964.7" fill="none" stroke="#9c9c9c" stroke-width="1.0" stroke-dasharray="3.2 2.2"/>
<path d="M1911.2 917.1 C1911.4 919.3 1912.0 927.1 1912.5 930.4 C1912.9 933.7 1915.0 933.8 1913.7 936.8 C1912.5 939.7 1908.0 945.0 1904.8 948.2 C1901.6 951.4 1897.6 955.2 1894.7 955.8 C1891.7 956.5 1889.1 951.4 1887.0 952.0 C1884.9 952.7 1882.6 957.3 1881.9 959.7 C1881.3 962.0 1881.5 964.3 1883.2 966.0 C1884.9 967.7 1890.8 967.7 1892.1 969.8 C1893.4 971.9 1893.0 976.2 1890.8 978.7 C1888.7 981.3 1881.5 982.5 1879.4 985.1 C1877.3 987.6 1878.3 992.5 1878.1 994.0" fill="none" stroke="#9c9c9c" stroke-width="1.0" stroke-dasharray="3.2 2.2"/>
<path d="M1874.3 1001.6 C1873.7 1003.1 1872.6 1007.5 1870.5 1010.5 C1868.4 1013.5 1863.5 1015.8 1861.6 1019.4 C1859.7 1023.0 1859.1 1027.9 1859.1 1032.1 C1859.1 1036.4 1860.3 1041.0 1861.6 1044.8 C1862.9 1048.6 1865.8 1053.3 1866.7 1055.0" fill="none" stroke="#9c9c9c" stroke-width="1.0" stroke-dasharray="3.2 2.2"/>
<path d="M1616.9 1082.9 C1619.1 1085.2 1626.1 1093.0 1629.7 1096.9 C1633.3 1100.7 1637.7 1101.7 1638.6 1105.8 C1639.4 1109.8 1635.0 1116.4 1634.7 1121.0 C1634.5 1125.7 1635.8 1130.3 1637.3 1133.7 C1638.8 1137.1 1642.6 1140.1 1643.6 1141.4" fill="none" stroke="#9c9c9c" stroke-width="1.0" stroke-dasharray="3.2 2.2"/>
<path d="M1862.9 1063.8 C1862.7 1065.7 1861.0 1072.3 1861.6 1075.3 C1862.2 1078.2 1864.8 1080.1 1866.7 1081.6 C1868.6 1083.1 1870.9 1082.9 1873.0 1084.2 C1875.2 1085.4 1877.9 1086.5 1879.4 1089.2 C1880.9 1092.0 1881.9 1097.5 1881.9 1100.7 C1881.9 1103.9 1879.8 1107.0 1879.4 1108.3" fill="none" stroke="#9c9c9c" stroke-width="1.0" stroke-dasharray="3.2 2.2"/>
<path d="M1664.0 1198.6 L1665.3 1212.5" fill="none" stroke="#9c9c9c" stroke-width="1.0" stroke-dasharray="3.2 2.2"/>
<path d="M1832.4 913.3 C1832.2 914.2 1831.6 917.1 1831.1 919.0 C1830.6 920.8 1829.6 922.4 1829.2 924.3 C1828.8 926.2 1828.2 928.3 1828.6 930.4 C1828.9 932.5 1829.8 934.9 1831.1 936.8 C1832.4 938.7 1834.9 940.6 1836.2 941.9 C1837.5 943.1 1837.0 943.5 1838.7 944.4 C1840.4 945.4 1844.0 946.5 1846.4 947.6 C1848.7 948.6 1850.8 949.2 1852.7 950.8 C1854.6 952.3 1855.5 955.4 1857.8 957.1 C1860.1 958.8 1864.6 959.2 1866.7 960.9 C1868.8 962.6 1869.7 965.1 1870.5 967.3 C1871.4 969.5 1871.8 971.5 1871.8 974.3 C1871.8 977.0 1870.5 980.7 1870.5 983.8 C1870.5 986.9 1871.1 990.2 1871.8 992.7 C1872.4 995.3 1873.0 996.9 1874.3 999.1 C1875.6 1001.2 1877.5 1003.5 1879.4 1005.4 C1881.3 1007.3 1884.3 1009.3 1885.8 1010.5 C1887.2 1011.7 1887.2 1011.0 1888.0 1012.4 C1888.9 1013.8 1890.4 1017.7 1890.8 1018.8" fill="none" stroke="#8c8c8c" stroke-width="1.6" stroke-linecap="round" stroke-linejoin="round"/>
<path d="M1752.3 1170.6 C1752.4 1172.2 1753.2 1177.2 1753.0 1180.1 C1752.7 1183.1 1751.7 1185.9 1751.1 1188.4 C1750.4 1190.8 1748.8 1192.8 1749.1 1194.7 C1749.5 1196.6 1752.1 1198.2 1753.0 1199.8 C1753.8 1201.4 1754.2 1202.2 1754.2 1204.3 C1754.2 1206.4 1753.2 1211.2 1753.0 1212.5" fill="none" stroke="#8c8c8c" stroke-width="1.0" stroke-linecap="round" stroke-linejoin="round"/>
<path d="M1890.8 1018.8 C1891.9 1018.0 1894.2 1015.7 1897.2 1014.3 C1900.2 1012.9 1905.2 1010.3 1908.6 1010.5 C1912.0 1010.7 1914.6 1013.9 1917.5 1015.6 C1920.5 1017.3 1923.9 1019.4 1926.4 1020.7 C1929.0 1021.9 1930.0 1022.4 1932.8 1023.2 C1935.5 1024.1 1939.1 1024.9 1943.0 1025.8 C1946.8 1026.6 1951.0 1027.3 1955.7 1028.3 C1960.3 1029.3 1968.4 1031.3 1970.9 1031.9" fill="none" stroke="#8c8c8c" stroke-width="3.4" stroke-linecap="round" stroke-linejoin="round"/>
<path d="M1908.6 1048.0 C1909.5 1049.0 1912.5 1051.5 1913.7 1053.7 C1915.0 1055.9 1915.7 1059.5 1916.3 1061.3 C1916.8 1063.2 1916.2 1062.6 1916.9 1065.1 C1917.6 1067.6 1920.1 1074.6 1920.7 1076.5" fill="none" stroke="#8c8c8c" stroke-width="3.0" stroke-linecap="round" stroke-linejoin="round"/>
<path d="M1865.4 1096.9 C1867.7 1096.8 1876.2 1096.7 1879.4 1096.2 C1882.6 1095.8 1882.2 1094.2 1884.5 1094.3 C1886.8 1094.4 1890.0 1097.7 1893.4 1096.9 C1896.8 1096.0 1901.2 1092.0 1904.8 1089.2 C1908.4 1086.5 1912.3 1082.5 1915.0 1080.3 C1917.6 1078.2 1917.3 1078.2 1920.7 1076.5 C1924.1 1074.8 1930.1 1072.5 1935.3 1070.2 C1940.5 1067.8 1945.9 1064.6 1951.9 1062.5 C1957.8 1060.5 1967.7 1058.8 1970.9 1058.1" fill="none" stroke="#8c8c8c" stroke-width="3.4" stroke-linecap="round" stroke-linejoin="round"/>
<path d="M1626.5 916.4 C1627.3 917.9 1629.6 922.2 1631.6 925.3 C1633.5 928.5 1637.1 933.8 1638.2 935.5" fill="none" stroke="#7f7cc6" stroke-width="1.6" stroke-linecap="round" stroke-linejoin="round"/>
<path d="M1638.2 935.5 C1639.1 936.8 1641.7 940.6 1643.6 943.1 C1645.6 945.7 1647.4 948.9 1649.7 950.8 C1652.1 952.7 1653.8 954.0 1657.6 954.6 C1661.5 955.1 1668.6 953.4 1672.9 953.9 C1677.1 954.5 1680.0 956.9 1683.0 957.8 C1686.1 958.6 1689.3 957.6 1691.3 959.0 C1693.3 960.4 1694.0 963.8 1695.1 966.0 C1696.3 968.2 1696.3 970.5 1698.3 972.4 C1700.3 974.3 1704.4 976.2 1707.2 977.5 C1710.0 978.7 1712.5 978.8 1714.8 980.0 C1717.2 981.2 1719.4 982.7 1721.2 984.8 C1723.0 986.9 1724.5 989.7 1725.6 992.7 C1726.8 995.7 1727.3 999.7 1728.2 1002.9 C1729.0 1006.1 1729.9 1009.6 1730.7 1011.8 C1731.6 1014.0 1732.8 1015.5 1733.3 1016.2" fill="none" stroke="#7f7cc6" stroke-width="3.2" stroke-linecap="round" stroke-linejoin="round"/>
<path d="M1646.2 1037.8 C1644.7 1038.5 1639.8 1040.3 1637.3 1041.6 C1634.7 1043.0 1632.4 1044.4 1630.9 1046.1 C1629.4 1047.8 1630.1 1050.4 1628.4 1051.8 C1626.7 1053.2 1622.3 1052.9 1620.8 1054.4 C1619.2 1055.8 1619.4 1058.9 1618.9 1060.7 C1618.3 1062.5 1618.4 1063.0 1617.6 1065.1 C1616.7 1067.2 1615.0 1070.8 1613.8 1073.3 C1612.5 1075.9 1612.2 1079.4 1610.0 1080.3 C1607.7 1081.3 1603.7 1078.9 1600.4 1079.1 C1597.1 1079.3 1593.4 1080.4 1590.3 1081.6 C1587.1 1082.8 1582.8 1085.3 1581.4 1086.1" fill="none" stroke="#2fb39a" stroke-width="3.0" stroke-linecap="round" stroke-linejoin="round"/>
<path d="M1649.4 1042.9 C1650.7 1042.5 1655.0 1041.1 1657.6 1040.4 C1660.3 1039.6 1662.9 1039.7 1665.3 1038.5 C1667.6 1037.2 1669.1 1033.9 1671.6 1032.7 C1674.1 1031.6 1678.2 1030.7 1680.5 1031.5 C1682.8 1032.2 1683.7 1035.1 1685.6 1037.2 C1687.5 1039.3 1689.4 1042.4 1691.9 1044.2 C1694.5 1046.0 1698.1 1048.2 1700.8 1048.0 C1703.6 1047.8 1705.9 1043.9 1708.5 1042.9 C1711.0 1042.0 1714.0 1043.4 1716.1 1042.3 C1718.2 1041.1 1719.8 1037.8 1721.2 1035.9 C1722.6 1034.0 1722.5 1032.2 1724.4 1030.8 C1726.3 1029.5 1730.1 1028.8 1732.6 1027.7 C1735.2 1026.5 1736.6 1025.5 1739.6 1023.9 C1742.6 1022.2 1747.1 1019.0 1750.4 1017.5 C1753.7 1016.0 1755.3 1015.3 1759.3 1015.0 C1763.3 1014.6 1772.0 1015.5 1774.6 1015.6 C1777.2 1015.7 1773.8 1015.7 1774.9 1015.6 C1776.1 1015.5 1779.8 1015.7 1781.5 1015.0 C1783.3 1014.2 1783.9 1012.2 1785.3 1011.1 C1786.8 1010.1 1788.5 1008.7 1790.4 1008.6 C1792.3 1008.5 1794.9 1009.7 1796.8 1010.5 C1798.7 1011.4 1800.0 1012.4 1801.9 1013.7 C1803.8 1015.0 1806.1 1017.2 1808.2 1018.1 C1810.3 1019.1 1812.0 1019.3 1814.6 1019.4 C1817.1 1019.5 1820.5 1018.1 1823.5 1018.8 C1826.4 1019.4 1829.0 1022.3 1832.4 1023.2 C1835.8 1024.2 1840.0 1024.3 1843.8 1024.5 C1847.6 1024.7 1851.2 1024.5 1855.0 1024.5 C1858.8 1024.5 1863.0 1024.5 1866.7 1024.5 C1870.3 1024.5 1875.2 1024.5 1876.9 1024.5" fill="none" stroke="#e23b3f" stroke-width="3.2" stroke-linecap="round" stroke-linejoin="round"/>
<path d="M1708.5 1042.9 C1708.8 1044.3 1709.8 1048.3 1710.4 1051.2 C1711.0 1054.0 1711.7 1057.7 1712.0 1060.1 C1712.3 1062.5 1712.2 1064.8 1712.3 1065.7" fill="none" stroke="#e23b3f" stroke-width="3.2" stroke-linecap="round" stroke-linejoin="round"/>
<path d="M1712.3 1065.7 C1712.0 1066.9 1710.8 1070.1 1710.4 1072.7 C1710.0 1075.4 1709.4 1078.9 1709.7 1081.6 C1710.1 1084.4 1711.2 1086.8 1712.3 1089.2 C1713.3 1091.7 1714.9 1093.7 1716.1 1096.2 C1717.3 1098.8 1718.4 1101.6 1719.3 1104.5 C1720.1 1107.3 1719.8 1110.4 1721.2 1113.4 C1722.6 1116.4 1725.0 1120.0 1727.5 1122.3 C1730.1 1124.6 1733.6 1126.1 1736.4 1127.4 C1739.3 1128.6 1742.0 1128.4 1744.7 1129.9 C1747.3 1131.4 1750.1 1135.6 1752.3 1136.3 C1754.5 1136.9 1755.6 1134.6 1758.0 1133.7 C1760.5 1132.9 1763.9 1132.5 1766.9 1131.2 C1770.0 1129.9 1774.8 1126.9 1776.5 1126.1 C1778.2 1125.3 1775.6 1126.7 1777.1 1126.1 C1778.6 1125.5 1782.3 1124.0 1785.3 1122.3 C1788.4 1120.6 1792.5 1117.4 1795.5 1115.9 C1798.5 1114.4 1801.2 1114.6 1803.1 1113.4 C1805.0 1112.2 1806.3 1109.7 1806.9 1108.9" fill="none" stroke="#5ab4e6" stroke-width="3.0" stroke-linecap="round" stroke-linejoin="round"/>
<path d="M1817.8 1104.2 C1819.3 1103.6 1824.4 1101.8 1827.3 1100.7 C1830.1 1099.6 1832.6 1098.6 1834.9 1097.5 C1837.2 1096.4 1839.5 1094.8 1841.3 1094.3 C1843.1 1093.8 1844.2 1094.2 1845.7 1094.6 C1847.2 1095.0 1847.8 1096.5 1850.2 1096.9 C1852.5 1097.2 1858.1 1096.9 1859.7 1096.9" fill="none" stroke="#5ab4e6" stroke-width="3.0" stroke-linecap="round" stroke-linejoin="round"/>
<path d="M1806.9 1108.9 L1817.8 1104.2" stroke="#5ab4e6" stroke-width="0.8" stroke-dasharray="2 2" fill="none"/>
<path d="M1752.3 1136.3 C1752.2 1137.5 1752.1 1141.5 1751.4 1143.9 C1750.8 1146.3 1750.6 1149.4 1748.5 1150.9 C1746.4 1152.4 1741.8 1151.6 1739.0 1152.8 C1736.1 1154.0 1734.1 1156.4 1731.3 1157.9 C1728.6 1159.4 1723.9 1161.1 1722.5 1161.7" fill="none" stroke="#5ab4e6" stroke-width="3.0" stroke-linecap="round" stroke-linejoin="round"/>
<path d="M1752.3 1154.1 C1752.4 1155.3 1753.0 1159.4 1753.0 1161.7 C1753.0 1164.0 1752.4 1167.0 1752.3 1168.0" fill="none" stroke="#5ab4e6" stroke-width="2.0" stroke-linecap="round" stroke-linejoin="round"/>
<circle cx="1691.3" cy="967.3" r="2.0" fill="#7f7cc6"/>
<circle cx="1698.9" cy="966.0" r="2.0" fill="#7f7cc6"/>
<circle cx="1668.4" cy="1026.8" r="2.3" fill="#e23b3f"/>
<circle cx="1675.7" cy="1037.8" r="2.3" fill="#e23b3f"/>
<circle cx="1814.6" cy="1015.3" r="2.6" fill="#e23b3f"/>
<circle cx="1814.6" cy="1023.5" r="2.6" fill="#e23b3f"/>
<circle cx="1704.7" cy="1075.3" r="2.2" fill="#5ab4e6"/>
<circle cx="1714.2" cy="1076.8" r="2.2" fill="#5ab4e6"/>
<circle cx="1764.4" cy="1124.2" r="2.2" fill="#5ab4e6"/>
<circle cx="1769.5" cy="1137.5" r="2.2" fill="#5ab4e6"/>
<circle cx="1807.6" cy="1108.9" r="1.5" fill="#5ab4e6"/>
<path d="M1779.4 1007.8 L1783.6 1007.8 L1781.5 1011.1 Z" fill="#e23b3f"/>
<path d="M1839.2 1017.0 L1843.4 1017.0 L1841.3 1020.4 Z" fill="#e23b3f"/>
<path d="M1868.1 1018.3 L1872.3 1018.3 L1870.2 1021.7 Z" fill="#e23b3f"/>
<path d="M1742.0 1014.8 L1746.2 1014.8 L1744.1 1018.1 Z" fill="#e23b3f"/>
<path d="M1712.7 1031.9 L1716.9 1031.9 L1714.8 1035.3 Z" fill="#e23b3f"/>
<path d="M1779.5 1007.8 L1783.7 1007.8 L1781.6 1011.1 Z" fill="#e23b3f"/>
<path d="M1599.6 1073.8 L1603.8 1073.8 L1601.7 1077.1 Z" fill="#2fb39a"/>
<path d="M1625.7 1042.1 L1629.9 1042.1 L1627.8 1045.4 Z" fill="#2fb39a"/>
<path d="M1815.7 1098.6 L1819.9 1098.6 L1817.8 1101.9 Z" fill="#5ab4e6"/>
<path d="M1780.7 1020.9 L1784.9 1020.9 L1782.8 1017.5 Z" fill="#e23b3f"/>
<path d="M1839.2 1030.7 L1843.4 1030.7 L1841.3 1027.3 Z" fill="#e23b3f"/>
<path d="M1868.1 1031.7 L1872.3 1031.7 L1870.2 1028.3 Z" fill="#e23b3f"/>
<path d="M1745.1 1027.2 L1749.3 1027.2 L1747.2 1023.9 Z" fill="#e23b3f"/>
<path d="M1721.6 1041.2 L1725.8 1041.2 L1723.7 1037.8 Z" fill="#e23b3f"/>
<path d="M1781.4 1020.2 L1785.6 1020.2 L1783.5 1016.9 Z" fill="#e23b3f"/>
<path d="M1599.6 1086.5 L1603.8 1086.5 L1601.7 1083.1 Z" fill="#2fb39a"/>
<path d="M1633.9 1053.3 L1638.1 1053.3 L1636.0 1049.9 Z" fill="#2fb39a"/>
<path d="M1818.8 1111.0 L1823.0 1111.0 L1820.9 1107.7 Z" fill="#5ab4e6"/>
<path d="M1636.5 923.4 L1640.7 923.4 L1638.6 920.0 Z" fill="#7f7cc6"/>
<path d="M1622.5 926.4 L1626.7 926.4 L1624.6 929.8 Z" fill="#7f7cc6"/>
<path d="M1722.6 1007.8 L1726.8 1007.8 L1724.7 1011.1 Z" fill="#7f7cc6"/>
<path d="M1731.8 1006.1 L1736.0 1006.1 L1733.9 1009.5 Z" fill="#7f7cc6"/>
<path d="M1736.2 1121.5 L1740.4 1121.5 L1738.3 1124.8 Z" fill="#5ab4e6"/>
<path d="M1731.8 1134.8 L1736.0 1134.8 L1733.9 1131.4 Z" fill="#5ab4e6"/>
<path d="M1594.1 921.5 L1603.6 922.8" stroke="#d8d83a" stroke-width="2.6" fill="none"/>
<circle cx="1590.3" cy="920.9" r="4.3" fill="#fff" stroke="#8a8a8a" stroke-width="0.9"/>
<circle cx="1607.4" cy="920.9" r="4.3" fill="#fff" stroke="#8a8a8a" stroke-width="0.9"/>
<circle cx="1626.5" cy="916.4" r="3.6" fill="#fff" stroke="#777" stroke-width="1.6"/>
<circle cx="1631.6" cy="925.3" r="4.0" fill="#fff" stroke="#8a8a8a" stroke-width="0.9"/>
<circle cx="1638.2" cy="935.5" r="4.3" fill="#fff" stroke="#8a8a8a" stroke-width="0.9"/>
<circle cx="1649.7" cy="950.8" r="4.3" fill="#fff" stroke="#8a8a8a" stroke-width="0.9"/>
<circle cx="1691.3" cy="959.0" r="4.3" fill="#fff" stroke="#8a8a8a" stroke-width="0.9"/>
<circle cx="1721.2" cy="984.8" r="4.3" fill="#fff" stroke="#8a8a8a" stroke-width="0.9"/>
<circle cx="1733.3" cy="1016.2" r="4.5" fill="#7f7cc6" stroke="#7f7cc6" stroke-width="0.5"/>
<circle cx="1649.4" cy="1042.9" r="4.6" fill="#e23b3f" stroke="#e23b3f" stroke-width="0.5"/>
<circle cx="1671.6" cy="1032.7" r="4.3" fill="#fff" stroke="#8a8a8a" stroke-width="0.9"/>
<circle cx="1700.8" cy="1048.0" r="4.3" fill="#fff" stroke="#8a8a8a" stroke-width="0.9"/>
<circle cx="1708.5" cy="1042.9" r="4.3" fill="#fff" stroke="#8a8a8a" stroke-width="0.9"/>
<path d="M1708.5 1040.3 L1705.8 1044.8 L1711.2 1044.8 Z" fill="#333"/>
<circle cx="1724.4" cy="1030.8" r="4.3" fill="#fff" stroke="#8a8a8a" stroke-width="0.9"/>
<circle cx="1739.6" cy="1023.9" r="4.3" fill="#fff" stroke="#8a8a8a" stroke-width="0.9"/>
<path d="M1739.6 1021.3 L1736.9 1025.8 L1742.3 1025.8 Z" fill="#333"/>
<circle cx="1774.9" cy="1015.6" r="4.3" fill="#fff" stroke="#8a8a8a" stroke-width="0.9"/>
<circle cx="1801.9" cy="1013.7" r="3.6" fill="#ddd" stroke="#666" stroke-width="1.5"/>
<circle cx="1823.5" cy="1018.8" r="4.0" fill="#fff" stroke="#8a8a8a" stroke-width="0.9"/>
<path d="M1823.5 1016.2 L1820.8 1020.7 L1826.2 1020.7 Z" fill="#333"/>
<circle cx="1832.4" cy="1023.2" r="4.3" fill="#fff" stroke="#8a8a8a" stroke-width="0.9"/>
<circle cx="1855.0" cy="1024.5" r="4.3" fill="#fff" stroke="#8a8a8a" stroke-width="0.9"/>
<circle cx="1881.9" cy="1023.2" r="4.3" fill="#fff" stroke="#8a8a8a" stroke-width="0.9"/>
<circle cx="1890.8" cy="1018.8" r="4.0" fill="#fff" stroke="#8a8a8a" stroke-width="0.9"/>
<path d="M1890.8 1016.2 L1888.1 1020.7 L1893.5 1020.7 Z" fill="#333"/>
<circle cx="1932.8" cy="1023.2" r="4.6" fill="#fff" stroke="#8a8a8a" stroke-width="0.9"/>
<circle cx="1908.6" cy="1048.0" r="4.6" fill="#fff" stroke="#8a8a8a" stroke-width="0.9"/>
<circle cx="1951.9" cy="1062.5" r="4.6" fill="#fff" stroke="#8a8a8a" stroke-width="0.9"/>
<circle cx="1935.3" cy="1070.2" r="4.6" fill="#fff" stroke="#8a8a8a" stroke-width="0.9"/>
<circle cx="1920.7" cy="1076.5" r="4.0" fill="#fff" stroke="#8a8a8a" stroke-width="0.9"/>
<path d="M1920.7 1073.9 L1918.0 1078.4 L1923.4 1078.4 Z" fill="#333"/>
<circle cx="1893.4" cy="1096.9" r="4.6" fill="#fff" stroke="#8a8a8a" stroke-width="0.9"/>
<circle cx="1829.2" cy="924.3" r="2.3" fill="#fff" stroke="#888" stroke-width="0.8"/>
<circle cx="1838.7" cy="944.4" r="2.3" fill="#fff" stroke="#888" stroke-width="0.8"/>
<circle cx="1871.8" cy="974.3" r="2.3" fill="#fff" stroke="#888" stroke-width="0.8"/>
<circle cx="1874.3" cy="999.1" r="2.3" fill="#fff" stroke="#888" stroke-width="0.8"/>
<circle cx="1857.8" cy="957.1" r="1.8" fill="#fff" stroke="#888" stroke-width="0.8"/>
<circle cx="1888.0" cy="1012.4" r="1.5" fill="#fff" stroke="#888" stroke-width="0.8"/>
<circle cx="1610.0" cy="1080.3" r="4.3" fill="#fff" stroke="#8a8a8a" stroke-width="0.9"/>
<circle cx="1712.3" cy="1065.7" r="4.6" fill="#e23b3f" stroke="#e23b3f" stroke-width="0.5"/>
<circle cx="1716.1" cy="1096.2" r="4.3" fill="#fff" stroke="#8a8a8a" stroke-width="0.9"/>
<circle cx="1744.7" cy="1129.9" r="4.3" fill="#fff" stroke="#8a8a8a" stroke-width="0.9"/>
<circle cx="1752.3" cy="1136.3" r="4.0" fill="#fff" stroke="#8a8a8a" stroke-width="0.9"/>
<path d="M1752.3 1133.7 L1749.6 1138.2 L1755.0 1138.2 Z" fill="#333"/>
<circle cx="1766.9" cy="1131.2" r="4.3" fill="#fff" stroke="#8a8a8a" stroke-width="0.9"/>
<circle cx="1776.5" cy="1126.1" r="3.4" fill="#ddd" stroke="#666" stroke-width="1.5"/>
<circle cx="1748.5" cy="1150.9" r="4.0" fill="#fff" stroke="#8a8a8a" stroke-width="0.9"/>
<path d="M1748.5 1148.3 L1745.8 1152.8 L1751.2 1152.8 Z" fill="#333"/>
<circle cx="1739.0" cy="1152.8" r="4.3" fill="#fff" stroke="#8a8a8a" stroke-width="0.9"/>
<circle cx="1723.7" cy="1166.1" r="4.3" fill="#fff" stroke="#8a8a8a" stroke-width="0.9"/>
<circle cx="1753.6" cy="1159.8" r="4.4" fill="#5ab4e6" stroke="#5ab4e6" stroke-width="0.5"/>
<rect x="1746.9" y="1166.3" width="10.4" height="2.8" fill="#5ab4e6" transform="rotate(4 1752.3 1167.7)"/>
<circle cx="1753.0" cy="1180.1" r="2.2" fill="#fff" stroke="#888" stroke-width="0.8"/>
<circle cx="1754.2" cy="1204.3" r="2.2" fill="#fff" stroke="#888" stroke-width="0.8"/>
<circle cx="1803.1" cy="1113.4" r="4.3" fill="#fff" stroke="#8a8a8a" stroke-width="0.9"/>
<circle cx="1834.9" cy="1097.5" r="4.3" fill="#fff" stroke="#8a8a8a" stroke-width="0.9"/>
<circle cx="1859.7" cy="1096.9" r="4.5" fill="#5ab4e6" stroke="#5ab4e6" stroke-width="0.5"/>
<path d="M1613.1 1206.4 C1614.8 1206.2 1620.5 1205.8 1623.3 1205.2 C1626.1 1204.5 1628.6 1203.0 1629.7 1202.6" fill="none" stroke="#e77db4" stroke-width="3.0" stroke-linecap="round" stroke-linejoin="round"/>
<rect x="1594.1" y="1204.3" width="8.5" height="4.6" fill="#e77db4" transform="rotate(-25 1598.1 1204.9)"/>
<path d="M1634.1 1203.4 q3 -1 2.5 -3.5" stroke="#e77db4" stroke-width="1.6" fill="none"/>
<circle cx="1590.3" cy="1210.6" r="4.3" fill="#fff" stroke="#8a8a8a" stroke-width="0.9"/>
<circle cx="1611.9" cy="1209.7" r="4.3" fill="#fff" stroke="#8a8a8a" stroke-width="0.9"/>
<circle cx="1600.4" cy="1213.2" r="4.0" fill="#fff" stroke="#8a8a8a" stroke-width="0.9"/>
<path d="M1600.4 1210.6 L1597.7 1215.1 L1603.1 1215.1 Z" fill="#333"/>
<circle cx="1654.4" cy="1194.5" r="2.6" fill="#eee" stroke="#777" stroke-width="1.0"/>
<text x="1590.3" y="935.1" font-size="7.6" fill="#4a4a4a" text-anchor="middle" font-weight="400">安</text>
<text x="1590.3" y="942.3" font-size="7.6" fill="#4a4a4a" text-anchor="middle" font-weight="400">来</text>
<text x="1608.3" y="933.8" font-size="7.6" fill="#4a4a4a" text-anchor="middle" font-weight="400">米</text>
<text x="1608.3" y="941.8" font-size="7.6" fill="#4a4a4a" text-anchor="middle" font-weight="400">子</text>
<text x="1608.3" y="950.3" font-size="7.6" fill="#4a4a4a" text-anchor="middle" font-weight="400">西</text>
<text x="1642.4" y="924.2" font-size="7.4" fill="#4a4a4a" text-anchor="start" font-weight="400" textLength="42.0" lengthAdjust="spacingAndGlyphs">大山高原SIC</text>
<text x="1645.5" y="940.1" font-size="7.6" fill="#4a4a4a" text-anchor="start" font-weight="400" textLength="14.8" lengthAdjust="spacingAndGlyphs">溝口</text>
<text x="1658.3" y="951.0" font-size="7.6" fill="#4a4a4a" text-anchor="start" font-weight="400" textLength="15.0" lengthAdjust="spacingAndGlyphs">江府</text>
<text x="1697.7" y="961.8" font-size="7.6" fill="#4a4a4a" text-anchor="start" font-weight="400" textLength="15.0" lengthAdjust="spacingAndGlyphs">蒜山</text>
<text x="1703.4" y="969.4" font-size="7.0" fill="#6f7fd0" text-anchor="start" font-weight="400" textLength="37.0" lengthAdjust="spacingAndGlyphs">蒜山高原SA</text>
<text x="1726.9" y="981.5" font-size="7.6" fill="#4a4a4a" text-anchor="start" font-weight="400" textLength="15.0" lengthAdjust="spacingAndGlyphs">湯原</text>
<text x="1738.3" y="1008.8" font-size="7.6" fill="#4a4a4a" text-anchor="start" font-weight="400" textLength="14.5" lengthAdjust="spacingAndGlyphs">久世</text>
<rect x="1673.5" y="931.7" width="58.5" height="10.2" fill="#8d8d8d"/>
<text x="1702.7" y="939.6" font-size="7.8" fill="#fff" text-anchor="middle" textLength="55.0" lengthAdjust="spacingAndGlyphs">米子自動車道</text>
<text x="1650.0" y="1027.9" font-size="7.6" fill="#4a4a4a" text-anchor="middle" font-weight="400">新</text>
<text x="1650.0" y="1034.8" font-size="7.6" fill="#4a4a4a" text-anchor="middle" font-weight="400">見</text>
<text x="1675.4" y="1002.4" font-size="7.6" fill="#4a4a4a" text-anchor="middle" font-weight="400">大</text>
<text x="1675.4" y="1009.4" font-size="7.6" fill="#4a4a4a" text-anchor="middle" font-weight="400">佐</text>
<text x="1675.4" y="1017.1" font-size="7.6" fill="#4a4a4a" text-anchor="middle" font-weight="400" textLength="8.8" lengthAdjust="spacingAndGlyphs">SA</text>
<text x="1675.4" y="1024.7" font-size="7.6" fill="#4a4a4a" text-anchor="middle" font-weight="400" textLength="11.5" lengthAdjust="spacingAndGlyphs">SIC</text>
<text x="1710.0" y="1017.7" font-size="7.6" fill="#4a4a4a" text-anchor="middle" font-weight="400">北</text>
<text x="1710.0" y="1024.4" font-size="7.6" fill="#4a4a4a" text-anchor="middle" font-weight="400">房</text>
<text x="1710.0" y="1031.7" font-size="7.6" fill="#4a4a4a" text-anchor="middle" font-weight="400" textLength="11.5" lengthAdjust="spacingAndGlyphs">JCT</text>
<text x="1697.7" y="1033.6" font-size="7.6" fill="#4a4a4a" text-anchor="middle" font-weight="400">北</text>
<text x="1697.7" y="1041.2" font-size="7.6" fill="#4a4a4a" text-anchor="middle" font-weight="400">房</text>
<text x="1732.0" y="1042.5" font-size="7.6" fill="#4a4a4a" text-anchor="middle" font-weight="400">落</text>
<text x="1732.0" y="1050.1" font-size="7.6" fill="#4a4a4a" text-anchor="middle" font-weight="400">合</text>
<text x="1743.0" y="1037.4" font-size="7.6" fill="#4a4a4a" text-anchor="middle" font-weight="400">落</text>
<text x="1743.0" y="1045.7" font-size="7.6" fill="#4a4a4a" text-anchor="middle" font-weight="400">合</text>
<text x="1743.0" y="1053.3" font-size="7.6" fill="#4a4a4a" text-anchor="middle" font-weight="400" textLength="11.5" lengthAdjust="spacingAndGlyphs">JCT</text>
<text x="1773.9" y="1000.5" font-size="7.6" fill="#4a4a4a" text-anchor="middle" font-weight="400">院</text>
<text x="1773.9" y="1008.2" font-size="7.6" fill="#4a4a4a" text-anchor="middle" font-weight="400">庄</text>
<rect x="1762.5" y="1027.7" width="57.8" height="8.9" fill="#8d8d8d"/>
<text x="1791.4" y="1034.9" font-size="7.8" fill="#fff" text-anchor="middle" textLength="54.3" lengthAdjust="spacingAndGlyphs">中国自動車道</text>
<text x="1802.5" y="998.6" font-size="7.6" fill="#4a4a4a" text-anchor="middle" font-weight="400">津</text>
<text x="1802.5" y="1006.2" font-size="7.6" fill="#4a4a4a" text-anchor="middle" font-weight="400">山</text>
<text x="1814.6" y="996.5" font-size="7.0" fill="#5b86d8" text-anchor="middle" font-weight="400">勝</text>
<text x="1814.6" y="1003.1" font-size="7.0" fill="#5b86d8" text-anchor="middle" font-weight="400">央</text>
<text x="1814.6" y="1010.5" font-size="7.0" fill="#5b86d8" text-anchor="middle" font-weight="400" textLength="8.1" lengthAdjust="spacingAndGlyphs">SA</text>
<text x="1829.8" y="997.4" font-size="7.6" fill="#4a4a4a" text-anchor="middle" font-weight="400">勝</text>
<text x="1829.8" y="1004.3" font-size="7.6" fill="#4a4a4a" text-anchor="middle" font-weight="400">央</text>
<text x="1829.8" y="1012.2" font-size="7.6" fill="#4a4a4a" text-anchor="middle" font-weight="400" textLength="11.5" lengthAdjust="spacingAndGlyphs">JCT</text>
<text x="1831.7" y="1037.4" font-size="7.6" fill="#4a4a4a" text-anchor="middle" font-weight="400">美</text>
<text x="1831.7" y="1045.0" font-size="7.6" fill="#4a4a4a" text-anchor="middle" font-weight="400">作</text>
<text x="1854.6" y="1037.4" font-size="7.6" fill="#4a4a4a" text-anchor="middle" font-weight="400">作</text>
<text x="1854.6" y="1045.7" font-size="7.6" fill="#4a4a4a" text-anchor="middle" font-weight="400">東</text>
<text x="1880.7" y="1036.1" font-size="7.6" fill="#4a4a4a" text-anchor="middle" font-weight="400">佐</text>
<text x="1880.7" y="1044.4" font-size="7.6" fill="#4a4a4a" text-anchor="middle" font-weight="400">用</text>
<text x="1892.4" y="1032.9" font-size="7.6" fill="#4a4a4a" text-anchor="middle" font-weight="400">佐</text>
<text x="1892.4" y="1040.6" font-size="7.6" fill="#4a4a4a" text-anchor="middle" font-weight="400">用</text>
<text x="1892.4" y="1048.8" font-size="7.6" fill="#4a4a4a" text-anchor="middle" font-weight="400" textLength="11.5" lengthAdjust="spacingAndGlyphs">JCT</text>
<text x="1890.2" y="1008.8" font-size="7.6" fill="#4a4a4a" text-anchor="start" font-weight="400" textLength="31.0" lengthAdjust="spacingAndGlyphs">佐用平福</text>
<text x="1880.0" y="999.9" font-size="7.6" fill="#4a4a4a" text-anchor="start" font-weight="400" textLength="14.7" lengthAdjust="spacingAndGlyphs">大原</text>
<text x="1877.5" y="977.0" font-size="7.6" fill="#4a4a4a" text-anchor="start" font-weight="400" textLength="23.5" lengthAdjust="spacingAndGlyphs">西粟倉</text>
<text x="1863.5" y="956.7" font-size="7.6" fill="#4a4a4a" text-anchor="start" font-weight="400" textLength="23.0" lengthAdjust="spacingAndGlyphs">智頭南</text>
<text x="1842.5" y="945.9" font-size="7.6" fill="#4a4a4a" text-anchor="start" font-weight="400" textLength="15.8" lengthAdjust="spacingAndGlyphs">智頭</text>
<text x="1834.3" y="928.1" font-size="7.6" fill="#4a4a4a" text-anchor="start" font-weight="400" textLength="15.2" lengthAdjust="spacingAndGlyphs">用瀬</text>
<text x="1609.3" y="1093.9" font-size="7.6" fill="#4a4a4a" text-anchor="middle" font-weight="400">東</text>
<text x="1609.3" y="1100.9" font-size="7.6" fill="#4a4a4a" text-anchor="middle" font-weight="400">城</text>
<rect x="1653.8" y="1103.9" width="58.5" height="10.2" fill="#8d8d8d"/>
<text x="1683.0" y="1111.7" font-size="7.8" fill="#fff" text-anchor="middle" textLength="55.0" lengthAdjust="spacingAndGlyphs">岡山自動車道</text>
<rect x="1572.5" y="1122.9" width="31.8" height="10.2" fill="#8d8d8d"/>
<text x="1588.3" y="1130.8" font-size="7.8" fill="#fff" text-anchor="middle" textLength="28.3" lengthAdjust="spacingAndGlyphs">動車道</text>
<text x="1720.5" y="1069.1" font-size="7.6" fill="#4a4a4a" text-anchor="start" font-weight="400" textLength="14.6" lengthAdjust="spacingAndGlyphs">有漢</text>
<text x="1693.9" y="1080.5" font-size="7.4" fill="#6fb6e6" text-anchor="start" font-weight="400" textLength="8.5" lengthAdjust="spacingAndGlyphs">SA</text>
<text x="1695.1" y="1099.6" font-size="7.6" fill="#4a4a4a" text-anchor="start" font-weight="400" textLength="13.5" lengthAdjust="spacingAndGlyphs">賀陽</text>
<text x="1739.0" y="1099.6" font-size="7.6" fill="#4a4a4a" text-anchor="middle" font-weight="400">岡</text>
<text x="1739.0" y="1107.2" font-size="7.6" fill="#4a4a4a" text-anchor="middle" font-weight="400">山</text>
<text x="1739.0" y="1114.9" font-size="7.6" fill="#4a4a4a" text-anchor="middle" font-weight="400">総</text>
<text x="1739.0" y="1122.5" font-size="7.6" fill="#4a4a4a" text-anchor="middle" font-weight="400">社</text>
<text x="1753.2" y="1109.8" font-size="7.6" fill="#4a4a4a" text-anchor="middle" font-weight="400">岡</text>
<text x="1753.2" y="1117.4" font-size="7.6" fill="#4a4a4a" text-anchor="middle" font-weight="400">山</text>
<text x="1753.2" y="1125.0" font-size="7.6" fill="#4a4a4a" text-anchor="middle" font-weight="400" textLength="11.5" lengthAdjust="spacingAndGlyphs">JCT</text>
<text x="1765.7" y="1097.1" font-size="7.6" fill="#4a4a4a" text-anchor="middle" font-weight="400">吉</text>
<text x="1765.7" y="1104.7" font-size="7.6" fill="#4a4a4a" text-anchor="middle" font-weight="400">備</text>
<text x="1765.7" y="1112.9" font-size="7.6" fill="#4a4a4a" text-anchor="middle" font-weight="400" textLength="8.8" lengthAdjust="spacingAndGlyphs">SA</text>
<text x="1765.7" y="1120.6" font-size="7.6" fill="#4a4a4a" text-anchor="middle" font-weight="400" textLength="11.5" lengthAdjust="spacingAndGlyphs">SIC</text>
<text x="1778.4" y="1111.7" font-size="7.6" fill="#4a4a4a" text-anchor="middle" font-weight="400">岡</text>
<text x="1778.4" y="1119.3" font-size="7.6" fill="#4a4a4a" text-anchor="middle" font-weight="400">山</text>
<text x="1754.2" y="1153.0" font-size="7.6" fill="#4a4a4a" text-anchor="start" font-weight="400" textLength="26.0" lengthAdjust="spacingAndGlyphs">倉敷JCT</text>
<text x="1739.0" y="1165.7" font-size="7.6" fill="#4a4a4a" text-anchor="middle" font-weight="400">倉</text>
<text x="1739.0" y="1173.1" font-size="7.6" fill="#4a4a4a" text-anchor="middle" font-weight="400">敷</text>
<text x="1762.5" y="1162.7" font-size="8.2" fill="#4a4a4a" text-anchor="start" font-weight="400" textLength="9.5" lengthAdjust="spacingAndGlyphs">IC</text>
<text x="1762.5" y="1171.0" font-size="8.2" fill="#4a4a4a" text-anchor="start" font-weight="400" textLength="10.0" lengthAdjust="spacingAndGlyphs">TB</text>
<text x="1775.8" y="1167.0" font-size="7.6" fill="#4a4a4a" text-anchor="start" font-weight="400" textLength="15.0" lengthAdjust="spacingAndGlyphs">早島</text>
<text x="1758.0" y="1182.9" font-size="7.6" fill="#4a4a4a" text-anchor="start" font-weight="400" textLength="14.6" lengthAdjust="spacingAndGlyphs">水島</text>
<text x="1759.3" y="1206.4" font-size="7.6" fill="#4a4a4a" text-anchor="start" font-weight="400" textLength="14.0" lengthAdjust="spacingAndGlyphs">児島</text>
<text x="1656.4" y="1203.8" font-size="7.6" fill="#4a4a4a" text-anchor="middle" font-weight="400">福</text>
<text x="1656.4" y="1211.5" font-size="7.6" fill="#4a4a4a" text-anchor="middle" font-weight="400">山</text>
<text x="1585.2" y="1204.5" font-size="7.6" fill="#4a4a4a" text-anchor="start" font-weight="400">B</text>
<text x="1610.6" y="1204.1" font-size="7.6" fill="#4a4a4a" text-anchor="start" font-weight="400">西</text>
<text transform="translate(1594.1 1199.8) rotate(-20)" font-size="7" fill="#4a4a4a">JCT</text>
<text x="1801.9" y="1098.3" font-size="7.6" fill="#4a4a4a" text-anchor="middle" font-weight="400">山</text>
<text x="1801.9" y="1106.0" font-size="7.6" fill="#4a4a4a" text-anchor="middle" font-weight="400">陽</text>
<text x="1813.9" y="1081.2" font-size="7.6" fill="#4a4a4a" text-anchor="middle" font-weight="400">瀬</text>
<text x="1813.9" y="1088.2" font-size="7.6" fill="#4a4a4a" text-anchor="middle" font-weight="400">戸</text>
<text x="1813.9" y="1096.4" font-size="7.6" fill="#4a4a4a" text-anchor="middle" font-weight="400" textLength="11.5" lengthAdjust="spacingAndGlyphs">JCT</text>
<text x="1834.3" y="1083.1" font-size="7.6" fill="#4a4a4a" text-anchor="middle" font-weight="400">和</text>
<text x="1834.3" y="1091.3" font-size="7.6" fill="#4a4a4a" text-anchor="middle" font-weight="400">気</text>
<text x="1859.1" y="1079.3" font-size="7.6" fill="#4a4a4a" text-anchor="middle" font-weight="400">備</text>
<text x="1859.1" y="1087.5" font-size="7.6" fill="#4a4a4a" text-anchor="middle" font-weight="400">前</text>
<rect x="1784.1" y="1126.1" width="58.5" height="10.8" fill="#8d8d8d"/>
<text x="1813.3" y="1134.3" font-size="7.8" fill="#fff" text-anchor="middle" textLength="55.0" lengthAdjust="spacingAndGlyphs">山陽自動車道</text>
<text x="1754.0" y="1073.2" font-size="15.6" fill="#333" font-weight="300" textLength="46.6" lengthAdjust="spacingAndGlyphs">岡山県</text>
</g>
<rect x="1850.4" y="1109.3" width="33.4" height="56.4" fill="#fff"/>
<path d="M1876.6 1006.7 L1876.6 1025.8 L1865.7 1060.0 L1865.7 1165.5" fill="none" stroke="#222" stroke-width="1"/>
<text x="1857.2" y="1119.5" font-size="13.4" fill="#333" font-weight="300" text-anchor="middle">中</text>
<text x="1857.2" y="1133.4" font-size="13.4" fill="#333" font-weight="300" text-anchor="middle">国</text>
<text x="1857.2" y="1147.4" font-size="13.4" fill="#333" font-weight="300" text-anchor="middle">支</text>
<text x="1857.2" y="1162.0" font-size="13.4" fill="#333" font-weight="300" text-anchor="middle">社</text>
<text x="1875.6" y="1119.5" font-size="13.4" fill="#333" font-weight="300" text-anchor="middle">関</text>
<text x="1875.6" y="1133.4" font-size="13.4" fill="#333" font-weight="300" text-anchor="middle">西</text>
<text x="1875.6" y="1147.4" font-size="13.4" fill="#333" font-weight="300" text-anchor="middle">支</text>
<text x="1875.6" y="1162.0" font-size="13.4" fill="#333" font-weight="300" text-anchor="middle">社</text>
<g filter="url(#soft)">
<path d="M1595.4 1143.9 L1663.7 1143.9 L1687.0 1046.9 L1699.0 1143.9 L1713.5 1143.9 Q1722.5 1143.9 1722.5 1152.9 L1722.5 1183.2 Q1722.5 1192.2 1713.5 1192.2 L1595.4 1192.2 Q1586.4 1192.2 1586.4 1183.2 L1586.4 1152.9 Q1586.4 1143.9 1595.4 1143.9 Z" fill="#4f81bd" stroke="#3a679e" stroke-width="1.8" stroke-linejoin="round"/>
</g>
<text x="1653.8" y="1176.4" font-size="18.4" fill="#fff" text-anchor="middle" textLength="75.6" lengthAdjust="spacing">施工箇所</text>
</g>
<rect x="1582.6" y="913.3" width="385.5" height="298.6" fill="none" stroke="#111" stroke-width="1.2"/>
</svg>
</body>
</html>
